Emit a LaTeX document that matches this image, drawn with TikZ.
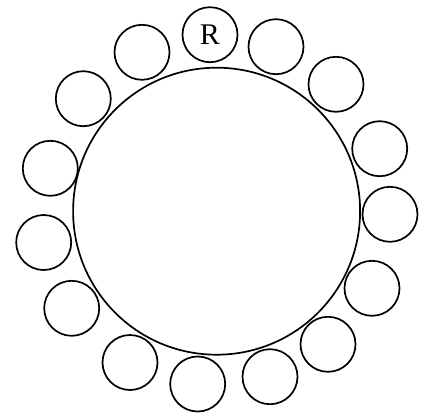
\documentclass[tikz,border=0pt]{standalone}
\usepackage{fontspec}
\setmainfont{Liberation Serif}
\begin{document}
\begin{tikzpicture}[x=1pt,y=-1pt,
  small/.style={circle,draw,line width=1.7pt,minimum size=55pt,inner sep=0pt,font=\fontsize{30}{30}\selectfont},
  big/.style={circle,draw,line width=1.7pt,minimum size=287pt,inner sep=0pt}]
\useasboundingbox (0,0) rectangle (426,413);
\node[big] (hub) at (216.6,211.2) {};
\node[small] (r) at (210,34.7) {R};
\node[small] (c1) at (276,46.7) {};
\node[small] (c2) at (336,84.3) {};
\node[small] (c3) at (379.7,148.7) {};
\node[small] (c4) at (390,214.3) {};
\node[small] (c5) at (372,288.3) {};
\node[small] (c6) at (328,344.3) {};
\node[small] (c7) at (270,376.7) {};
\node[small] (c8) at (197.7,384) {};
\node[small] (c9) at (130,362.5) {};
\node[small] (c10) at (71.7,308.3) {};
\node[small] (c11) at (43.7,242.5) {};
\node[small] (c12) at (50.3,168.3) {};
\node[small] (c13) at (83.3,98.7) {};
\node[small] (c14) at (142,52.3) {};
\end{tikzpicture}
\end{document}
